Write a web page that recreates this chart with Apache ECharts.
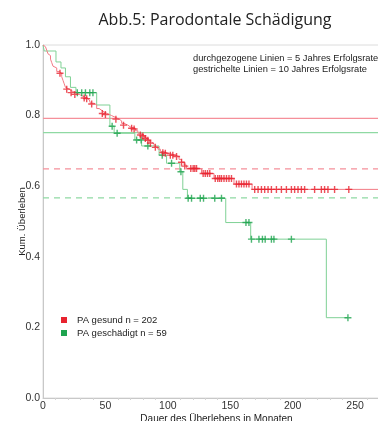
<!DOCTYPE html>
<html><head><meta charset="utf-8">
<script src="https://cdn.jsdelivr.net/npm/echarts@6/dist/echarts.min.js"></script>
<style>html,body{margin:0;padding:0;background:#fff;}#c{width:378px;height:421px;}</style>
</head><body><div id="c"></div>
<script>
// ---- data ----
var titleText = "Abb.5: Parodontale Schädigung";
var noteLines = ["durchgezogene Linien = 5 Jahres Erfolgsrate", "gestrichelte Linien = 10 Jahres Erfolgsrate"];
var xName = "Dauer des Überlebens in Monaten";
var yName = "Kum. Überleben";
var seriesNames = ["PA gesund n = 202", "PA geschädigt n = 59"];
var xTicks = [0, 50, 100, 150, 200, 250];
var yTicks = [0.0, 0.2, 0.4, 0.6, 0.8, 1.0];

// Kaplan-Meier steps [month, survival after event]
var redSteps = [[0,1],[1,0.995],[2,0.99],[3,0.985],[4,0.975],[5,0.97],[6,0.96],[7,0.95],[8,0.94],[9.5,0.935],[11,0.925],[13,0.92],[15,0.91],[16,0.9],[17,0.89],[18,0.88],[19.5,0.875],[21,0.87],[23,0.865],[26,0.86],[29,0.855],[32,0.85],[35,0.845],[37,0.84],[38,0.835],[41,0.83],[43,0.82],[45,0.815],[47,0.81],[49,0.805],[52,0.8],[55,0.795],[58,0.79],[61,0.785],[63,0.778],[65,0.773],[68,0.768],[70,0.764],[74,0.757],[76,0.75],[78,0.745],[81,0.738],[83,0.732],[85,0.725],[87,0.72],[89,0.712],[92,0.705],[94,0.698],[97,0.693],[101,0.688],[106,0.684],[109,0.676],[111,0.668],[113,0.66],[115,0.65],[127,0.636],[137,0.622],[153,0.606],[167.5,0.591],[278,0.591]];
var redCensored = [[13.6,0.92],[19,0.875],[22.5,0.865],[25.5,0.86],[33,0.85],[35,0.848],[39,0.833],[47.5,0.806],[50,0.803],[58.4,0.79],[64.5,0.773],[71,0.764],[73,0.762],[78,0.745],[80,0.742],[82,0.735],[84,0.73],[86,0.722],[90,0.71],[96,0.695],[98,0.693],[102,0.688],[104,0.688],[107,0.684],[111,0.668],[113.6,0.657],[118.4,0.65],[120.3,0.65],[121.6,0.65],[123,0.65],[128.3,0.636],[130,0.636],[131.8,0.636],[133.6,0.636],[138,0.622],[140,0.622],[141.5,0.622],[143,0.622],[145,0.622],[147,0.622],[149,0.622],[151,0.622],[155,0.606],[157,0.606],[159,0.606],[161,0.606],[163,0.606],[165,0.606],[169.6,0.591],[172.3,0.591],[175,0.591],[177.6,0.591],[180.3,0.591],[183,0.591],[187,0.591],[191,0.591],[195,0.591],[199,0.591],[201.6,0.591],[204.3,0.591],[207,0.591],[209.6,0.591],[217.6,0.591],[223,0.591],[225.6,0.591],[228.3,0.591],[233.6,0.591],[245,0.591]];
var greenSteps = [[0,1],[1,0.983],[10.4,0.952],[14.4,0.935],[18,0.91],[22,0.88],[26.4,0.865],[43,0.83],[53.6,0.77],[57,0.75],[73.6,0.731],[79,0.714],[93,0.688],[99,0.665],[109.6,0.641],[112,0.591],[115.7,0.566],[146.4,0.497],[166.4,0.45],[227,0.2275],[244.3,0.2275]];
var greenCensored = [[27.5,0.865],[31,0.865],[34,0.865],[37.5,0.865],[40,0.865],[55.4,0.77],[59.4,0.75],[75,0.731],[78.6,0.731],[84,0.714],[95.5,0.688],[103,0.665],[110.5,0.641],[116.3,0.566],[119,0.566],[126,0.566],[128.6,0.566],[137.6,0.566],[143,0.566],[162.6,0.497],[165,0.497],[167,0.45],[173,0.45],[175.8,0.45],[178,0.45],[183,0.45],[185,0.45],[199,0.45],[244.3,0.2275]];

// 5-year and 10-year success rates
var red5y = 0.792, red10y = 0.649;
var green5y = 0.752, green10y = 0.567;
var xMin = 0, xMax = 278;

// ---- styles ----
var RED = '#e8232f', RED_L = '#f27a85', RED_REF = '#f5909a';
var GREEN = '#1ea44f', GREEN_L = '#7fd195', GREEN_REF = '#8fd9a3';
var plus = 'path://M-0.8,-4H0.8V-0.8H4V0.8H0.8V4H-0.8V0.8H-4V-0.8H-0.8Z';
var sans = '"Liberation Sans", Arial, sans-serif';

function refLine(value, color, type) {
  return {type: 'line', data: [[xMin, value], [xMax, value]], silent: true, z: 1,
    showSymbol: false, symbol: 'none', color: color,
    lineStyle: {color: color, width: 1.2, type: type}, itemStyle: {color: color}};
}

var chart = echarts.init(document.getElementById('c'), null, {renderer: 'canvas'});
chart.setOption({
  animation: false,
  backgroundColor: '#fff',
  grid: {left: 43, top: 45, bottom: 23, right: -12, containLabel: false, outerBoundsMode: 'none',
         show: true, borderColor: '#dcdcdc', borderWidth: 1},
  xAxis: {
    type: 'value', min: xMin, max: xMax, interval: 50,
    name: xName, nameLocation: 'middle', nameGap: 16, nameMoveOverlap: false,
    nameTextStyle: {fontFamily: sans, fontSize: 10, color: '#222'},
    axisLine: {show: true, lineStyle: {color: '#c8c8c8'}},
    axisTick: {show: false},
    minorTick: {show: true, splitNumber: 5, length: 2, lineStyle: {color: '#d4d4d4'}},
    splitLine: {show: false},
    axisLabel: {fontFamily: sans, fontSize: 10.5, color: '#333', margin: 3,
      formatter: function (v) { return xTicks.indexOf(v) >= 0 ? String(v) : ''; }}
  },
  yAxis: {
    type: 'value', min: 0, max: 1, interval: 0.2,
    name: yName, nameLocation: 'middle', nameGap: 16, nameRotate: 90, nameMoveOverlap: false,
    nameTextStyle: {fontFamily: sans, fontSize: 9.5, color: '#222'},
    axisLine: {show: true, lineStyle: {color: '#c8c8c8'}},
    axisTick: {show: false},
    splitLine: {show: false},
    axisLabel: {fontFamily: sans, fontSize: 10.5, color: '#333', margin: 3,
      formatter: function (v) { return v.toFixed(1); }}
  },
  legend: {
    orient: 'vertical', left: 61, top: 315, padding: 0, itemWidth: 6, itemHeight: 6, itemGap: 3,
    icon: 'rect',
    textStyle: {fontFamily: sans, fontSize: 9.5, color: '#222', padding: [0, 0, 0, 5]},
    data: [{name: seriesNames[0], itemStyle: {color: RED}}, {name: seriesNames[1], itemStyle: {color: GREEN}}]
  },
  graphic: [
    {type: 'text', x: 215, y: 20, style: {text: titleText, textAlign: 'center', textVerticalAlign: 'middle', font: '16px "Open Sans", sans-serif', fill: '#222'}},
    {type: 'text', x: 193, y: 58, style: {text: noteLines[0], textAlign: 'left', textVerticalAlign: 'middle', font: '9.3px "Liberation Sans", Arial, sans-serif', fill: '#222'}},
    {type: 'text', x: 193, y: 69, style: {text: noteLines[1], textAlign: 'left', textVerticalAlign: 'middle', font: '9.3px "Liberation Sans", Arial, sans-serif', fill: '#222'}}
  ],
  series: [
    refLine(red5y, RED_REF, 'solid'),
    refLine(red10y, RED_REF, [6, 5]),
    refLine(green5y, GREEN_REF, 'solid'),
    refLine(green10y, GREEN_REF, [6, 5]),
    {name: seriesNames[0], type: 'line', step: 'end', data: redSteps, showSymbol: false, symbol: 'none',
     lineStyle: {color: RED_L, width: 1}, itemStyle: {color: RED}, z: 3},
    {name: seriesNames[1], type: 'line', step: 'end', data: greenSteps, showSymbol: false, symbol: 'none',
     lineStyle: {color: GREEN_L, width: 1}, itemStyle: {color: GREEN}, z: 2},
    {name: seriesNames[1], type: 'scatter', data: greenCensored, symbol: plus, symbolSize: 7,
     itemStyle: {color: GREEN}, z: 4},
    {name: seriesNames[0], type: 'scatter', data: redCensored, symbol: plus, symbolSize: 7,
     itemStyle: {color: RED}, z: 5}
  ]
});
</script>
</body></html>
